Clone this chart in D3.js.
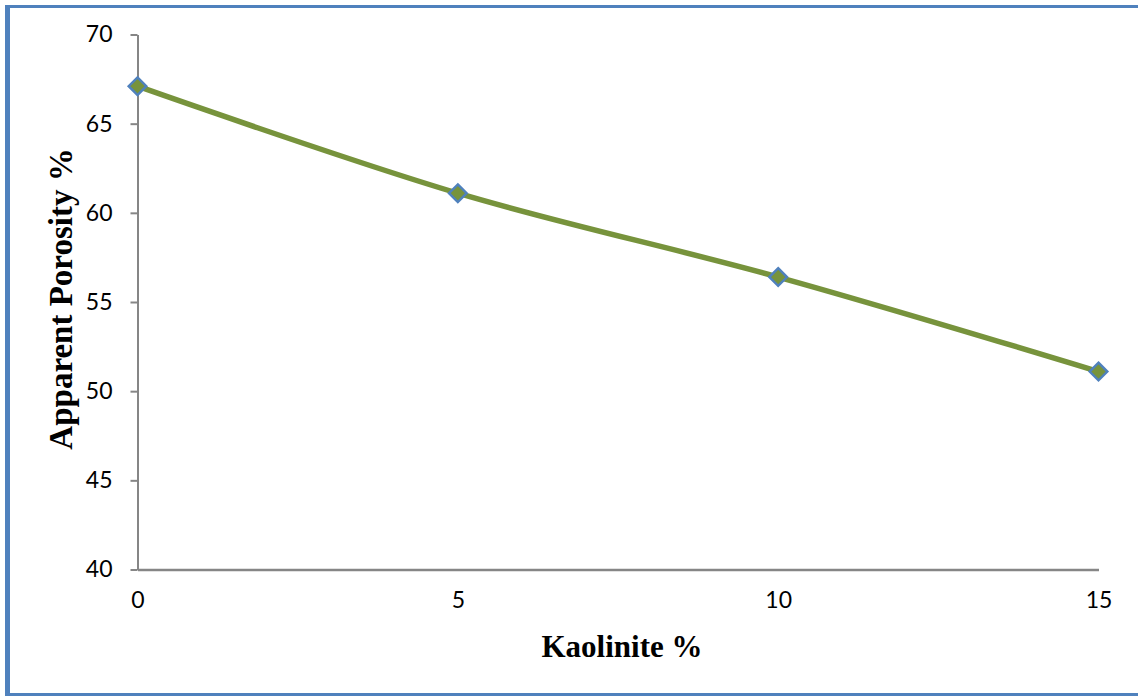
<!DOCTYPE html>
<html>
<head>
<meta charset="utf-8">
<script src="https://cdn.jsdelivr.net/npm/d3@7"></script>
<style>
  html, body { margin: 0; padding: 0; background: #fff; }
  svg { display: block; }
</style>
</head>
<body>
<svg id="chart" width="1138" height="696"></svg>
<script>
// Kaolinite content (%) and measured apparent porosity (%)
const kaolinite = [0, 5, 10, 15];
const porosity = [67.1, 61.1, 56.4, 51.1];
const xTicks = [0, 5, 10, 15];
const yTicks = [40, 45, 50, 55, 60, 65, 70];

const svg = d3.select("#chart");
const W = 1138, H = 696;

// outer frame
const frameColor = "#4F81BD";
svg.append("line").attr("x1", 7.5).attr("x2", 7.5).attr("y1", 5).attr("y2", 696)
  .attr("stroke", frameColor).attr("stroke-width", 5);
svg.append("line").attr("x1", 5).attr("x2", W).attr("y1", 6.5).attr("y2", 6.5)
  .attr("stroke", frameColor).attr("stroke-width", 3);
svg.append("line").attr("x1", 5).attr("x2", W).attr("y1", 694.5).attr("y2", 694.5)
  .attr("stroke", frameColor).attr("stroke-width", 3);

const x = d3.scaleLinear().domain([0, 15]).range([137.5, 1098.5]);
const y = d3.scaleLinear().domain([40, 70]).range([569.5, 34.5]);

const axisColor = "#868686";
const tickFont = "Lato, 'Open Sans', sans-serif";

// y axis
const yAxis = svg.append("g").attr("transform", `translate(${x(0)},0)`)
  .call(d3.axisLeft(y).tickValues(yTicks).tickSize(7).tickPadding(18).tickSizeOuter(0));
yAxis.select(".domain").attr("stroke", axisColor).attr("stroke-width", 2);
yAxis.selectAll(".tick line").attr("stroke", axisColor).attr("stroke-width", 2);
yAxis.selectAll(".tick text").attr("fill", "#000").style("font-family", tickFont).style("font-size", "23px");

// x axis (labels only, no tick marks)
const xAxis = svg.append("g").attr("transform", `translate(0,${y(40)})`)
  .call(d3.axisBottom(x).tickValues(xTicks).tickSize(0).tickPadding(22).tickSizeOuter(0));
xAxis.select(".domain").attr("stroke", axisColor).attr("stroke-width", 2.5);
xAxis.selectAll(".tick text").attr("fill", "#000").style("font-family", tickFont).style("font-size", "23px");

// data line (smoothed)
const pts = kaolinite.map((k, i) => [k, porosity[i]]);
const line = d3.line().x(d => x(d[0])).y(d => y(d[1])).curve(d3.curveCatmullRom.alpha(0.5));
svg.append("path").datum(pts).attr("d", line)
  .attr("fill", "none").attr("stroke", "#77933C").attr("stroke-width", 5.5)
  .attr("stroke-linejoin", "round");

// diamond markers
const diamond = d3.symbol().type(d3.symbolDiamond2).size(200);
svg.append("g").selectAll("path").data(pts).join("path")
  .attr("d", diamond)
  .attr("transform", d => `translate(${x(d[0])},${y(d[1])})`)
  .attr("fill", "#77933C").attr("stroke", "#4F81BD").attr("stroke-width", 2.4);

// axis titles
svg.append("text").attr("x", 622).attr("y", 657)
  .attr("text-anchor", "middle")
  .style("font-family", "'Liberation Serif', 'Times New Roman', serif")
  .style("font-weight", "bold").style("font-size", "31px")
  .text("Kaolinite %");

svg.append("text").attr("transform", "translate(72,299) rotate(-90)")
  .attr("text-anchor", "middle")
  .style("font-family", "'Liberation Serif', 'Times New Roman', serif")
  .style("font-weight", "bold").style("font-size", "33px")
  .text("Apparent Porosity %");
</script>
</body>
</html>
